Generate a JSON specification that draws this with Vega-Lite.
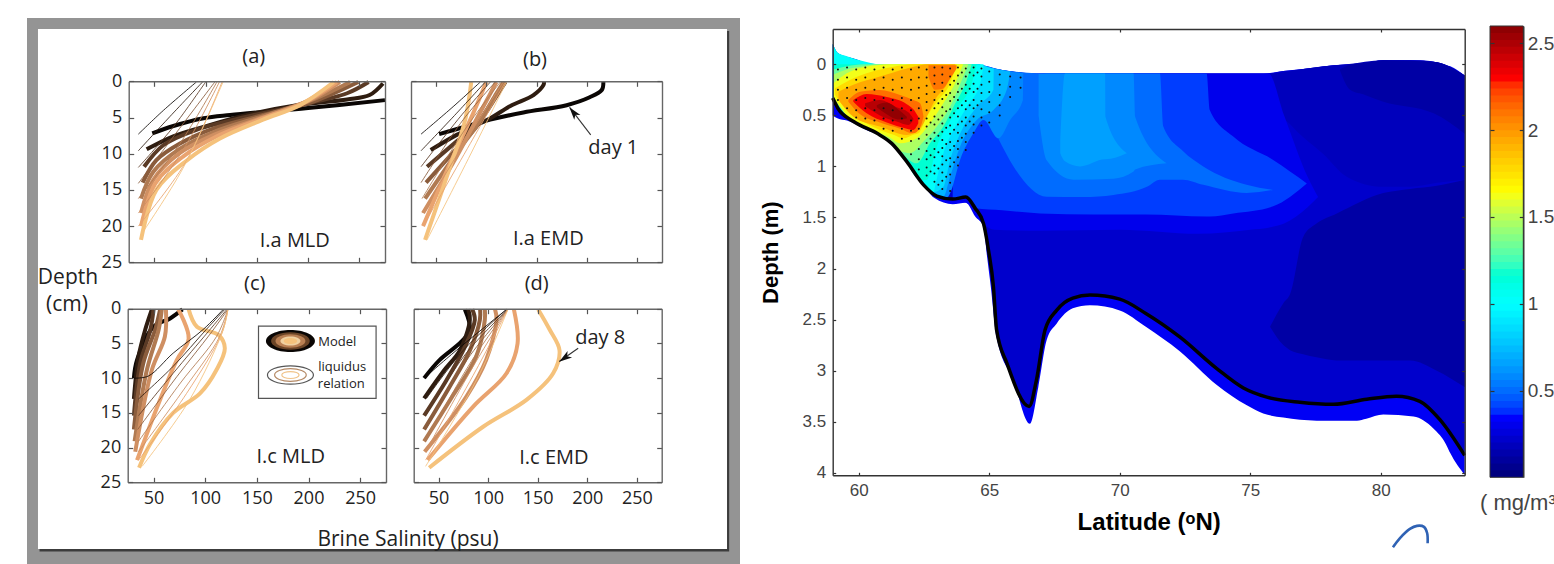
{"$schema":"https://vega.github.io/schema/vega-lite/v6.json","width":1554,"height":564,"padding":0,"autosize":{"type":"none"},"background":"white",
"config":{"view":{"stroke":null},"axis":{"grid":false,"title":null,"domainColor":"#666","tickColor":"#555","domainWidth":1.4,"tickWidth":1.2,"tickSize":-5,"labelFont":"Open Sans","labelFontSize":18,"labelColor":"#222"},"text":{"font":"Open Sans","color":"#222"}},
"datasets":{
"paper":[{"part":"gray","x":0,"x2":1,"y":0,"y2":1},{"part":"shadow","x":0.0176,"x2":0.9848,"y":0.0239,"y2":0.977},{"part":"sheet","x":0.0154,"x2":0.9818,"y":0.0201,"y2":0.9725}],
"papertext":[{"x":0.0575,"y":0.476,"label":"Depth"},{"x":0.056,"y":0.5256,"label":"(cm)"},{"x":0.5344,"y":0.956,"label":"Brine Salinity (psu)"}],
"model":[
{"panel":"a","day":1,"sal":48,"depth":7.2},{"panel":"a","day":1,"sal":68.6,"depth":6.17},{"panel":"a","day":1,"sal":98,"depth":5.1},{"panel":"a","day":1,"sal":124,"depth":4.65},{"panel":"a","day":1,"sal":200,"depth":3.7},{"panel":"a","day":1,"sal":275,"depth":2.6},
{"panel":"a","day":2,"sal":42.5,"depth":9.4},{"panel":"a","day":2,"sal":68.5,"depth":7.6},{"panel":"a","day":2,"sal":98,"depth":6.3},{"panel":"a","day":2,"sal":140,"depth":4.65},{"panel":"a","day":2,"sal":189,"depth":3.3},{"panel":"a","day":2,"sal":238,"depth":2.5},{"panel":"a","day":2,"sal":260,"depth":1.9},{"panel":"a","day":2,"sal":273,"depth":0.3},
{"panel":"a","day":3,"sal":40,"depth":11.8},{"panel":"a","day":3,"sal":59,"depth":8.8},{"panel":"a","day":3,"sal":91,"depth":6.7},{"panel":"a","day":3,"sal":140,"depth":4.9},{"panel":"a","day":3,"sal":189,"depth":3.4},{"panel":"a","day":3,"sal":238,"depth":1.65},{"panel":"a","day":3,"sal":259,"depth":0.1},
{"panel":"a","day":4,"sal":38.6,"depth":14},{"panel":"a","day":4,"sal":52,"depth":10.9},{"panel":"a","day":4,"sal":75,"depth":8.6},{"panel":"a","day":4,"sal":108,"depth":6.5},{"panel":"a","day":4,"sal":156,"depth":4.65},{"panel":"a","day":4,"sal":205,"depth":2.8},{"panel":"a","day":4,"sal":249,"depth":0.1},
{"panel":"a","day":5,"sal":37,"depth":16.2},{"panel":"a","day":5,"sal":49,"depth":12.5},{"panel":"a","day":5,"sal":75,"depth":9.3},{"panel":"a","day":5,"sal":108,"depth":7},{"panel":"a","day":5,"sal":156,"depth":4.8},{"panel":"a","day":5,"sal":205,"depth":2.5},{"panel":"a","day":5,"sal":241,"depth":0.1},
{"panel":"a","day":6,"sal":37,"depth":18.2},{"panel":"a","day":6,"sal":49,"depth":13.6},{"panel":"a","day":6,"sal":75,"depth":9.9},{"panel":"a","day":6,"sal":108,"depth":7.4},{"panel":"a","day":6,"sal":156,"depth":5},{"panel":"a","day":6,"sal":199,"depth":2.8},{"panel":"a","day":6,"sal":231,"depth":0.1},
{"panel":"a","day":7,"sal":37,"depth":20},{"panel":"a","day":7,"sal":51,"depth":14.1},{"panel":"a","day":7,"sal":78,"depth":10.4},{"panel":"a","day":7,"sal":111,"depth":7.6},{"panel":"a","day":7,"sal":156,"depth":5.1},{"panel":"a","day":7,"sal":195,"depth":3},{"panel":"a","day":7,"sal":228,"depth":0.1},
{"panel":"a","day":8,"sal":37,"depth":21.9},{"panel":"a","day":8,"sal":52,"depth":15},{"panel":"a","day":8,"sal":82,"depth":10.9},{"panel":"a","day":8,"sal":114,"depth":7.9},{"panel":"a","day":8,"sal":156,"depth":5.3},{"panel":"a","day":8,"sal":192,"depth":3.3},{"panel":"a","day":8,"sal":225,"depth":0.1},
{"panel":"b","day":1,"sal":53,"depth":7.3},{"panel":"b","day":1,"sal":77,"depth":6.35},{"panel":"b","day":1,"sal":104,"depth":5.3},{"panel":"b","day":1,"sal":137,"depth":4.3},{"panel":"b","day":1,"sal":180,"depth":3.3},{"panel":"b","day":1,"sal":203,"depth":2.2},{"panel":"b","day":1,"sal":215,"depth":1.2},{"panel":"b","day":1,"sal":216.6,"depth":0.1},
{"panel":"b","day":2,"sal":44.6,"depth":9.5},{"panel":"b","day":2,"sal":70.5,"depth":7.4},{"panel":"b","day":2,"sal":104,"depth":5.1},{"panel":"b","day":2,"sal":124,"depth":3.4},{"panel":"b","day":2,"sal":147,"depth":1.9},{"panel":"b","day":2,"sal":157,"depth":0.5},{"panel":"b","day":2,"sal":157.5,"depth":0.1},
{"panel":"b","day":3,"sal":41,"depth":11.8},{"panel":"b","day":3,"sal":70.5,"depth":8.3},{"panel":"b","day":3,"sal":90,"depth":6},{"panel":"b","day":3,"sal":107,"depth":2.6},{"panel":"b","day":3,"sal":119,"depth":0.1},
{"panel":"b","day":4,"sal":40,"depth":14},{"panel":"b","day":4,"sal":70.5,"depth":9.3},{"panel":"b","day":4,"sal":90,"depth":6.3},{"panel":"b","day":4,"sal":110,"depth":2.1},{"panel":"b","day":4,"sal":119,"depth":0.1},
{"panel":"b","day":5,"sal":39,"depth":16.2},{"panel":"b","day":5,"sal":70.5,"depth":9.9},{"panel":"b","day":5,"sal":92,"depth":5.8},{"panel":"b","day":5,"sal":110,"depth":1.7},{"panel":"b","day":5,"sal":117,"depth":0.1},
{"panel":"b","day":6,"sal":37,"depth":18.2},{"panel":"b","day":6,"sal":70.5,"depth":10.4},{"panel":"b","day":6,"sal":90,"depth":5.3},{"panel":"b","day":6,"sal":104,"depth":1.7},{"panel":"b","day":6,"sal":110,"depth":0.1},
{"panel":"b","day":7,"sal":37,"depth":20},{"panel":"b","day":7,"sal":67,"depth":10.4},{"panel":"b","day":7,"sal":87,"depth":4.4},{"panel":"b","day":7,"sal":100,"depth":0.1},
{"panel":"b","day":8,"sal":39,"depth":21.9},{"panel":"b","day":8,"sal":64,"depth":11.8},{"panel":"b","day":8,"sal":79,"depth":5.3},{"panel":"b","day":8,"sal":85,"depth":0.1},
{"panel":"c","day":1,"sal":31,"depth":10},{"panel":"c","day":1,"sal":34,"depth":7.4},{"panel":"c","day":1,"sal":50,"depth":2.6},{"panel":"c","day":1,"sal":66,"depth":1.4},{"panel":"c","day":1,"sal":78,"depth":0.1},
{"panel":"c","day":2,"sal":31,"depth":13},{"panel":"c","day":2,"sal":35.5,"depth":6.9},{"panel":"c","day":2,"sal":42,"depth":3},{"panel":"c","day":2,"sal":48.4,"depth":0.1},
{"panel":"c","day":3,"sal":31,"depth":15.4},{"panel":"c","day":3,"sal":37,"depth":7.9},{"panel":"c","day":3,"sal":47,"depth":3},{"panel":"c","day":3,"sal":50,"depth":0.1},
{"panel":"c","day":4,"sal":31,"depth":17.4},{"panel":"c","day":4,"sal":40,"depth":7.9},{"panel":"c","day":4,"sal":51.6,"depth":3},{"panel":"c","day":4,"sal":56.4,"depth":0.1},
{"panel":"c","day":5,"sal":31.7,"depth":19.1},{"panel":"c","day":5,"sal":43.6,"depth":8.8},{"panel":"c","day":5,"sal":55,"depth":3},{"panel":"c","day":5,"sal":58,"depth":0.1},
{"panel":"c","day":6,"sal":32.3,"depth":20.6},{"panel":"c","day":6,"sal":48.4,"depth":8.8},{"panel":"c","day":6,"sal":61,"depth":4},{"panel":"c","day":6,"sal":62,"depth":0.1},
{"panel":"c","day":7,"sal":34,"depth":21.8},{"panel":"c","day":7,"sal":55,"depth":13.6},{"panel":"c","day":7,"sal":72.5,"depth":7.4},{"panel":"c","day":7,"sal":84,"depth":4.3},{"panel":"c","day":7,"sal":74,"depth":0.1},
{"panel":"c","day":8,"sal":36,"depth":22.9},{"panel":"c","day":8,"sal":47,"depth":19.4},{"panel":"c","day":8,"sal":69,"depth":15},{"panel":"c","day":8,"sal":95,"depth":12.2},{"panel":"c","day":8,"sal":111,"depth":8.8},{"panel":"c","day":8,"sal":119,"depth":5.7},{"panel":"c","day":8,"sal":113,"depth":3.8},{"panel":"c","day":8,"sal":92,"depth":2.6},{"panel":"c","day":8,"sal":84,"depth":0.1},
{"panel":"d","day":1,"sal":35.5,"depth":10},{"panel":"d","day":1,"sal":51,"depth":7.4},{"panel":"d","day":1,"sal":73,"depth":4.75},{"panel":"d","day":1,"sal":81.6,"depth":3},{"panel":"d","day":1,"sal":76.6,"depth":0.1},
{"panel":"d","day":2,"sal":35.5,"depth":12.9},{"panel":"d","day":2,"sal":55,"depth":9},{"panel":"d","day":2,"sal":71.5,"depth":6},{"panel":"d","day":2,"sal":81.6,"depth":1.6},{"panel":"d","day":2,"sal":80,"depth":0.1},
{"panel":"d","day":3,"sal":35.5,"depth":15.4},{"panel":"d","day":3,"sal":58,"depth":10.3},{"panel":"d","day":3,"sal":76.6,"depth":5.5},{"panel":"d","day":3,"sal":86.6,"depth":1.6},{"panel":"d","day":3,"sal":84,"depth":0.1},
{"panel":"d","day":4,"sal":35.5,"depth":17.4},{"panel":"d","day":4,"sal":61.4,"depth":11.2},{"panel":"d","day":4,"sal":81.6,"depth":6},{"panel":"d","day":4,"sal":91.7,"depth":1.6},{"panel":"d","day":4,"sal":92,"depth":0.1},
{"panel":"d","day":5,"sal":35.5,"depth":19.1},{"panel":"d","day":5,"sal":65,"depth":12.4},{"panel":"d","day":5,"sal":88,"depth":6.9},{"panel":"d","day":5,"sal":96.7,"depth":1.6},{"panel":"d","day":5,"sal":96.7,"depth":0.1},
{"panel":"d","day":6,"sal":36,"depth":20.6},{"panel":"d","day":6,"sal":78,"depth":12.7},{"panel":"d","day":6,"sal":98,"depth":7.4},{"panel":"d","day":6,"sal":108.5,"depth":1.6},{"panel":"d","day":6,"sal":107,"depth":0.1},
{"panel":"d","day":7,"sal":39,"depth":21.8},{"panel":"d","day":7,"sal":85,"depth":14.1},{"panel":"d","day":7,"sal":118.6,"depth":9.3},{"panel":"d","day":7,"sal":129.7,"depth":5},{"panel":"d","day":7,"sal":126,"depth":0.1},
{"panel":"d","day":8,"sal":40.6,"depth":22.9},{"panel":"d","day":8,"sal":95,"depth":17},{"panel":"d","day":8,"sal":139,"depth":13.1},{"panel":"d","day":8,"sal":165.6,"depth":9.3},{"panel":"d","day":8,"sal":172,"depth":6},{"panel":"d","day":8,"sal":162,"depth":3},{"panel":"d","day":8,"sal":150.5,"depth":0.1}
],
"liquidus":[
{"panel":"a","day":1,"sal":34.4,"depth":7.3},{"panel":"a","day":1,"sal":59,"depth":4},{"panel":"a","day":1,"sal":91,"depth":0.1},
{"panel":"a","day":2,"sal":34.4,"depth":9.6},{"panel":"a","day":2,"sal":65,"depth":4.9},{"panel":"a","day":2,"sal":97,"depth":0.1},
{"panel":"a","day":3,"sal":34.4,"depth":11.9},{"panel":"a","day":3,"sal":68.5,"depth":6.3},{"panel":"a","day":3,"sal":100,"depth":0.1},
{"panel":"a","day":4,"sal":34.4,"depth":14.1},{"panel":"a","day":4,"sal":72,"depth":7},{"panel":"a","day":4,"sal":109,"depth":0.1},
{"panel":"a","day":5,"sal":34.4,"depth":16.2},{"panel":"a","day":5,"sal":75,"depth":8.6},{"panel":"a","day":5,"sal":111,"depth":0.1},
{"panel":"a","day":6,"sal":34.4,"depth":18.2},{"panel":"a","day":6,"sal":78,"depth":9.5},{"panel":"a","day":6,"sal":113.4,"depth":0.1},
{"panel":"a","day":7,"sal":34.4,"depth":20},{"panel":"a","day":7,"sal":80,"depth":11.3},{"panel":"a","day":7,"sal":116,"depth":0.1},
{"panel":"a","day":8,"sal":38,"depth":21},{"panel":"a","day":8,"sal":78,"depth":12},{"panel":"a","day":8,"sal":117,"depth":0.1},
{"panel":"b","day":1,"sal":35,"depth":7.3},{"panel":"b","day":1,"sal":67,"depth":3.5},{"panel":"b","day":1,"sal":94,"depth":0.1},
{"panel":"b","day":2,"sal":35,"depth":9.6},{"panel":"b","day":2,"sal":70.5,"depth":4.4},{"panel":"b","day":2,"sal":99,"depth":0.1},
{"panel":"b","day":3,"sal":35,"depth":11.8},{"panel":"b","day":3,"sal":74,"depth":4.9},{"panel":"b","day":3,"sal":104,"depth":0.1},
{"panel":"b","day":4,"sal":35,"depth":14},{"panel":"b","day":4,"sal":77,"depth":5.3},{"panel":"b","day":4,"sal":109,"depth":0.1},
{"panel":"b","day":5,"sal":36,"depth":16.2},{"panel":"b","day":5,"sal":80.5,"depth":6.3},{"panel":"b","day":5,"sal":114,"depth":0.1},
{"panel":"b","day":6,"sal":36,"depth":18.2},{"panel":"b","day":6,"sal":84,"depth":7.2},{"panel":"b","day":6,"sal":117,"depth":0.1},
{"panel":"b","day":7,"sal":37,"depth":20},{"panel":"b","day":7,"sal":84,"depth":8.6},{"panel":"b","day":7,"sal":119,"depth":0.1},
{"panel":"b","day":8,"sal":41,"depth":21.9},{"panel":"b","day":8,"sal":85,"depth":9.9},{"panel":"b","day":8,"sal":120,"depth":0.1},
{"panel":"c","day":1,"sal":31,"depth":10},{"panel":"c","day":1,"sal":45,"depth":9.7},{"panel":"c","day":1,"sal":69,"depth":6.4},{"panel":"c","day":1,"sal":98,"depth":3},{"panel":"c","day":1,"sal":117.5,"depth":0.1},
{"panel":"c","day":2,"sal":35.5,"depth":13},{"panel":"c","day":2,"sal":69,"depth":8.3},{"panel":"c","day":2,"sal":101,"depth":3},{"panel":"c","day":2,"sal":119,"depth":0.1},
{"panel":"c","day":3,"sal":35.5,"depth":15.4},{"panel":"c","day":3,"sal":69,"depth":9.3},{"panel":"c","day":3,"sal":103,"depth":3.3},{"panel":"c","day":3,"sal":121,"depth":0.1},
{"panel":"c","day":4,"sal":34.6,"depth":17.4},{"panel":"c","day":4,"sal":72.5,"depth":9.8},{"panel":"c","day":4,"sal":105,"depth":3.6},{"panel":"c","day":4,"sal":122,"depth":0.1},
{"panel":"c","day":5,"sal":35.5,"depth":19.1},{"panel":"c","day":5,"sal":76,"depth":10.7},{"panel":"c","day":5,"sal":111,"depth":4},{"panel":"c","day":5,"sal":122,"depth":0.1},
{"panel":"c","day":6,"sal":35.5,"depth":20.6},{"panel":"c","day":6,"sal":79,"depth":11.7},{"panel":"c","day":6,"sal":114,"depth":4},{"panel":"c","day":6,"sal":122,"depth":0.1},
{"panel":"c","day":7,"sal":35.5,"depth":21.8},{"panel":"c","day":7,"sal":82,"depth":12.2},{"panel":"c","day":7,"sal":116,"depth":3.6},{"panel":"c","day":7,"sal":122,"depth":0.1},
{"panel":"c","day":8,"sal":39,"depth":22.7},{"panel":"c","day":8,"sal":85,"depth":13.1},{"panel":"c","day":8,"sal":117.5,"depth":3},{"panel":"c","day":8,"sal":122,"depth":0.1},
{"panel":"d","day":1,"sal":35.5,"depth":10},{"panel":"d","day":1,"sal":68,"depth":6},{"panel":"d","day":1,"sal":118.6,"depth":0.1},
{"panel":"d","day":2,"sal":38,"depth":12.9},{"panel":"d","day":2,"sal":75,"depth":6},{"panel":"d","day":2,"sal":118.6,"depth":0.1},
{"panel":"d","day":3,"sal":37,"depth":15.4},{"panel":"d","day":3,"sal":78,"depth":6.4},{"panel":"d","day":3,"sal":120,"depth":0.1},
{"panel":"d","day":4,"sal":37,"depth":17.4},{"panel":"d","day":4,"sal":80,"depth":7.1},{"panel":"d","day":4,"sal":120,"depth":0.1},
{"panel":"d","day":5,"sal":37,"depth":19.1},{"panel":"d","day":5,"sal":83,"depth":7.6},{"panel":"d","day":5,"sal":120,"depth":0.1},
{"panel":"d","day":6,"sal":37,"depth":20.6},{"panel":"d","day":6,"sal":85,"depth":8.3},{"panel":"d","day":6,"sal":120,"depth":0.1},
{"panel":"d","day":7,"sal":37,"depth":21.8},{"panel":"d","day":7,"sal":88,"depth":8.8},{"panel":"d","day":7,"sal":120,"depth":0.1},
{"panel":"d","day":8,"sal":37,"depth":22.7},{"panel":"d","day":8,"sal":90,"depth":9.8},{"panel":"d","day":8,"sal":120,"depth":0.1}
],
"notes":[
{"panel":"a","sal":147,"depth":-3.4,"label":"(a)"},{"panel":"a","sal":187,"depth":22,"label":"I.a MLD"},
{"panel":"b","sal":148.5,"depth":-2.94,"label":"(b)"},{"panel":"b","sal":161.8,"depth":21.8,"label":"I.a EMD"},{"panel":"b","sal":226.5,"depth":9.16,"label":"day 1"},
{"panel":"c","sal":148,"depth":-3.56,"label":"(c)"},{"panel":"c","sal":182.8,"depth":21.4,"label":"I.c MLD"},
{"panel":"d","sal":149,"depth":-3.56,"label":"(d)"},{"panel":"d","sal":166.3,"depth":21.45,"label":"I.c EMD"},{"panel":"d","sal":213,"depth":4.17,"label":"day 8"}],
"legendnotes":[{"sal":227.8,"depth":4.75,"label":"Model"},{"sal":232.6,"depth":8.4,"label":"liquidus"},{"sal":231.7,"depth":10.85,"label":"relation"}],
"arrows":[{"panel":"b","sal":204,"depth":7.4},{"panel":"b","sal":183,"depth":3.6},{"panel":"d","sal":190.8,"depth":5.7},{"panel":"d","sal":171.7,"depth":7.6}],
"heat":[
{"band":1,"chl":0.3,"lat":59,"top":-0.2,"bot":0.5},{"band":1,"chl":0.3,"lat":59.2,"top":-0.108,"bot":0.53},{"band":1,"chl":0.3,"lat":59.54,"top":-0.075,"bot":0.55},{"band":1,"chl":0.3,"lat":59.9,"top":-0.05,"bot":0.59},{"band":1,"chl":0.3,"lat":60.18,"top":-0.02,"bot":0.63},{"band":1,"chl":0.3,"lat":60.4,"top":0,"bot":0.655},{"band":1,"chl":0.3,"lat":60.81,"top":0,"bot":0.69},{"band":1,"chl":0.3,"lat":61.3,"top":0,"bot":0.79},{"band":1,"chl":0.3,"lat":61.84,"top":0,"bot":0.953},{"band":1,"chl":0.3,"lat":62.35,"top":0,"bot":1.13},{"band":1,"chl":0.3,"lat":62.9,"top":0,"bot":1.31},{"band":1,"chl":0.3,"lat":63.6,"top":0,"bot":1.37},{"band":1,"chl":0.3,"lat":64.1,"top":0,"bot":1.355},{"band":1,"chl":0.3,"lat":64.46,"top":0,"bot":1.49},{"band":1,"chl":0.3,"lat":64.78,"top":0.015,"bot":1.59},{"band":1,"chl":0.3,"lat":64.9,"top":0.025,"bot":1.85},{"band":1,"chl":0.3,"lat":65.06,"top":0.035,"bot":2.18},{"band":1,"chl":0.3,"lat":65.28,"top":0.05,"bot":2.67},{"band":1,"chl":0.3,"lat":65.92,"top":0.075,"bot":3.09},{"band":1,"chl":0.3,"lat":66.56,"top":0.09,"bot":3.52},{"band":1,"chl":0.3,"lat":66.88,"top":0.095,"bot":3.16},{"band":1,"chl":0.3,"lat":67.2,"top":0.09,"bot":2.7},{"band":1,"chl":0.3,"lat":67.58,"top":0.09,"bot":2.54},{"band":1,"chl":0.3,"lat":68.2,"top":0.09,"bot":2.39},{"band":1,"chl":0.3,"lat":68.86,"top":0.09,"bot":2.36},{"band":1,"chl":0.3,"lat":70,"top":0.09,"bot":2.41},{"band":1,"chl":0.3,"lat":71,"top":0.09,"bot":2.57},{"band":1,"chl":0.3,"lat":72.3,"top":0.09,"bot":2.81},{"band":1,"chl":0.3,"lat":73.72,"top":0.09,"bot":3.14},{"band":1,"chl":0.3,"lat":74.87,"top":0.09,"bot":3.34},{"band":1,"chl":0.3,"lat":75.5,"top":0.09,"bot":3.42},{"band":1,"chl":0.3,"lat":76.27,"top":0.065,"bot":3.46},{"band":1,"chl":0.3,"lat":77.55,"top":0.03,"bot":3.49},{"band":1,"chl":0.3,"lat":78.04,"top":0.013,"bot":3.49},{"band":1,"chl":0.3,"lat":79.09,"top":-0.005,"bot":3.49},{"band":1,"chl":0.3,"lat":79.45,"top":-0.016,"bot":3.47},{"band":1,"chl":0.3,"lat":80.1,"top":-0.04,"bot":3.43},{"band":1,"chl":0.3,"lat":81.26,"top":-0.04,"bot":3.45},{"band":1,"chl":0.3,"lat":82.03,"top":-0.025,"bot":3.57},{"band":1,"chl":0.3,"lat":82.5,"top":0.006,"bot":3.72},{"band":1,"chl":0.3,"lat":82.67,"top":0.02,"bot":3.81},{"band":1,"chl":0.3,"lat":83.22,"top":0.11,"bot":4.02},
{"band":2,"chl":0.2,"lat":59,"top":-0.2,"bot":0.33},{"band":2,"chl":0.2,"lat":59.2,"top":-0.108,"bot":0.43},{"band":2,"chl":0.2,"lat":59.8,"top":-0.055,"bot":0.56},{"band":2,"chl":0.2,"lat":60.7,"top":0,"bot":0.676},{"band":2,"chl":0.2,"lat":61.26,"top":0,"bot":0.774},{"band":2,"chl":0.2,"lat":61.84,"top":0,"bot":0.953},{"band":2,"chl":0.2,"lat":62.48,"top":0,"bot":1.18},{"band":2,"chl":0.2,"lat":62.99,"top":0,"bot":1.29},{"band":2,"chl":0.2,"lat":63.6,"top":0,"bot":1.32},{"band":2,"chl":0.2,"lat":64.1,"top":0,"bot":1.3},{"band":2,"chl":0.2,"lat":64.46,"top":0,"bot":1.41},{"band":2,"chl":0.2,"lat":64.78,"top":0.015,"bot":1.56},{"band":2,"chl":0.2,"lat":64.97,"top":0.03,"bot":1.82},{"band":2,"chl":0.2,"lat":65.16,"top":0.04,"bot":2.18},{"band":2,"chl":0.2,"lat":65.28,"top":0.05,"bot":2.6},{"band":2,"chl":0.2,"lat":65.68,"top":0.065,"bot":2.93},{"band":2,"chl":0.2,"lat":66.53,"top":0.09,"bot":3.35},{"band":2,"chl":0.2,"lat":66.81,"top":0.095,"bot":3.09},{"band":2,"chl":0.2,"lat":67.14,"top":0.09,"bot":2.6},{"band":2,"chl":0.2,"lat":67.58,"top":0.09,"bot":2.41},{"band":2,"chl":0.2,"lat":68.2,"top":0.09,"bot":2.29},{"band":2,"chl":0.2,"lat":68.86,"top":0.09,"bot":2.26},{"band":2,"chl":0.2,"lat":70,"top":0.09,"bot":2.3},{"band":2,"chl":0.2,"lat":71,"top":0.09,"bot":2.44},{"band":2,"chl":0.2,"lat":72.3,"top":0.09,"bot":2.67},{"band":2,"chl":0.2,"lat":73.72,"top":0.09,"bot":2.98},{"band":2,"chl":0.2,"lat":74.74,"top":0.09,"bot":3.17},{"band":2,"chl":0.2,"lat":75.64,"top":0.09,"bot":3.26},{"band":2,"chl":0.2,"lat":76.27,"top":0.065,"bot":3.29},{"band":2,"chl":0.2,"lat":76.9,"top":0.05,"bot":3.31},{"band":2,"chl":0.2,"lat":78.19,"top":0.01,"bot":3.33},{"band":2,"chl":0.2,"lat":79.47,"top":-0.016,"bot":3.28},{"band":2,"chl":0.2,"lat":80.1,"top":-0.04,"bot":3.26},{"band":2,"chl":0.2,"lat":80.6,"top":-0.04,"bot":3.25},{"band":2,"chl":0.2,"lat":81.5,"top":-0.04,"bot":3.3},{"band":2,"chl":0.2,"lat":82.27,"top":-0.01,"bot":3.48},{"band":2,"chl":0.2,"lat":83.22,"top":0.11,"bot":3.83},
{"band":3,"chl":0.16,"lat":75.76,"top":0.09,"bot":0.25},{"band":3,"chl":0.16,"lat":75.83,"top":0.09,"bot":0.35},{"band":3,"chl":0.16,"lat":76.66,"top":0.06,"bot":0.62},{"band":3,"chl":0.16,"lat":77.81,"top":0.02,"bot":0.88},{"band":3,"chl":0.16,"lat":78.7,"top":0,"bot":1.1},{"band":3,"chl":0.16,"lat":80.1,"top":-0.04,"bot":1.2},{"band":3,"chl":0.16,"lat":81.13,"top":-0.04,"bot":1.2},{"band":3,"chl":0.16,"lat":82.15,"top":-0.02,"bot":1.16},{"band":3,"chl":0.16,"lat":83.22,"top":0.11,"bot":1.13},
{"band":4,"chl":0.1,"lat":75.76,"top":2.57,"bot":2.57},{"band":4,"chl":0.1,"lat":76.27,"top":2.34,"bot":2.75},{"band":4,"chl":0.1,"lat":76.53,"top":2.25,"bot":2.8},{"band":4,"chl":0.1,"lat":77.03,"top":1.69,"bot":2.84},{"band":4,"chl":0.1,"lat":77.54,"top":1.56,"bot":2.87},{"band":4,"chl":0.1,"lat":78.32,"top":1.46,"bot":2.9},{"band":4,"chl":0.1,"lat":80.1,"top":1.26,"bot":2.9},{"band":4,"chl":0.1,"lat":81.13,"top":1.22,"bot":2.9},{"band":4,"chl":0.1,"lat":82.15,"top":1.19,"bot":3},{"band":4,"chl":0.1,"lat":83.22,"top":1.13,"bot":3.16},
{"band":5,"chl":0.1,"lat":78.44,"top":0.05,"bot":0.06},{"band":5,"chl":0.1,"lat":78.83,"top":0.003,"bot":0.25},{"band":5,"chl":0.1,"lat":79.4,"top":-0.016,"bot":0.3},{"band":5,"chl":0.1,"lat":80.1,"top":-0.04,"bot":0.366},{"band":5,"chl":0.1,"lat":82.03,"top":-0.025,"bot":0.48},{"band":5,"chl":0.1,"lat":83.22,"top":0.11,"bot":0.68},
{"band":25,"chl":0.28,"lat":63.6,"top":0,"bot":1.32},{"band":25,"chl":0.28,"lat":64.46,"top":0,"bot":1.41},{"band":25,"chl":0.28,"lat":64.78,"top":0.015,"bot":1.56},{"band":25,"chl":0.28,"lat":65.2,"top":0.04,"bot":1.62},{"band":25,"chl":0.28,"lat":67,"top":0.09,"bot":1.63},{"band":25,"chl":0.28,"lat":70,"top":0.09,"bot":1.62},{"band":25,"chl":0.28,"lat":73,"top":0.09,"bot":1.66},{"band":25,"chl":0.28,"lat":75,"top":0.09,"bot":1.62},{"band":25,"chl":0.28,"lat":75.7,"top":0.09,"bot":1.6},{"band":25,"chl":0.28,"lat":76.3,"top":0.5,"bot":1.56},{"band":25,"chl":0.28,"lat":77.2,"top":1.1,"bot":1.4},{"band":25,"chl":0.28,"lat":77.6,"top":1.3,"bot":1.3},
{"band":6,"chl":0.38,"lat":63.6,"top":0,"bot":1.32},{"band":6,"chl":0.38,"lat":64.1,"top":0,"bot":1.3},{"band":6,"chl":0.38,"lat":64.46,"top":0,"bot":1.41},{"band":6,"chl":0.38,"lat":65.5,"top":0.055,"bot":1.43},{"band":6,"chl":0.38,"lat":66.95,"top":0.09,"bot":1.46},{"band":6,"chl":0.38,"lat":69,"top":0.09,"bot":1.47},{"band":6,"chl":0.38,"lat":71,"top":0.09,"bot":1.47},{"band":6,"chl":0.38,"lat":73.33,"top":0.09,"bot":1.49},{"band":6,"chl":0.38,"lat":73.45,"top":0.447,"bot":1.49},{"band":6,"chl":0.38,"lat":74.35,"top":0.708,"bot":1.46},{"band":6,"chl":0.38,"lat":75.88,"top":0.937,"bot":1.39},{"band":6,"chl":0.38,"lat":77.17,"top":1.166,"bot":1.166},
{"band":7,"chl":0.48,"lat":65.35,"top":0.05,"bot":0.73},{"band":7,"chl":0.48,"lat":65.93,"top":0.07,"bot":1},{"band":7,"chl":0.48,"lat":67.2,"top":0.09,"bot":1.296},{"band":7,"chl":0.48,"lat":68.6,"top":0.09,"bot":1.3},{"band":7,"chl":0.48,"lat":69.76,"top":0.09,"bot":1.28},{"band":7,"chl":0.48,"lat":71.04,"top":0.09,"bot":1.2},{"band":7,"chl":0.48,"lat":71.54,"top":0.09,"bot":1.13},{"band":7,"chl":0.48,"lat":71.67,"top":0.61,"bot":1.13},{"band":7,"chl":0.48,"lat":72.42,"top":0.85,"bot":1.13},{"band":7,"chl":0.48,"lat":73.2,"top":1,"bot":1.18},{"band":7,"chl":0.48,"lat":74.86,"top":1.18,"bot":1.26},{"band":7,"chl":0.48,"lat":75.88,"top":1.23,"bot":1.23},
{"band":8,"chl":0.56,"lat":66.89,"top":0.095,"bot":0.5},{"band":8,"chl":0.56,"lat":67.2,"top":0.09,"bot":0.94},{"band":8,"chl":0.56,"lat":68.23,"top":0.09,"bot":1.13},{"band":8,"chl":0.56,"lat":69.76,"top":0.09,"bot":1.12},{"band":8,"chl":0.56,"lat":70.53,"top":0.09,"bot":1.05},{"band":8,"chl":0.56,"lat":70.59,"top":0.513,"bot":1.03},{"band":8,"chl":0.56,"lat":71.8,"top":0.97,"bot":0.97},
{"band":9,"chl":0.63,"lat":67.72,"top":0.75,"bot":0.87},{"band":9,"chl":0.63,"lat":67.9,"top":0.09,"bot":0.95},{"band":9,"chl":0.63,"lat":68.48,"top":0.09,"bot":1},{"band":9,"chl":0.63,"lat":69.44,"top":0.09,"bot":0.93},{"band":9,"chl":0.63,"lat":69.45,"top":0.51,"bot":0.93},{"band":9,"chl":0.63,"lat":70.27,"top":0.87,"bot":0.87},
{"band":10,"chl":0.55,"lat":62.35,"top":0,"bot":1.13},{"band":10,"chl":0.55,"lat":62.86,"top":0,"bot":1.27},{"band":10,"chl":0.55,"lat":63.37,"top":0,"bot":1.31},{"band":10,"chl":0.55,"lat":63.5,"top":0,"bot":1.263},{"band":10,"chl":0.55,"lat":63.88,"top":0,"bot":0.937},{"band":10,"chl":0.55,"lat":64.39,"top":0,"bot":0.676},{"band":10,"chl":0.55,"lat":64.78,"top":0.015,"bot":0.545},{"band":10,"chl":0.55,"lat":65.35,"top":0.05,"bot":0.725},{"band":10,"chl":0.55,"lat":65.8,"top":0.07,"bot":0.545},{"band":10,"chl":0.55,"lat":66.29,"top":0.085,"bot":0.349},{"band":10,"chl":0.55,"lat":66.3,"top":0.085,"bot":0.09},
{"band":11,"chl":0.7,"lat":62.35,"top":0,"bot":1.13},{"band":11,"chl":0.7,"lat":62.86,"top":0,"bot":1.27},{"band":11,"chl":0.7,"lat":63.24,"top":0,"bot":1.296},{"band":11,"chl":0.7,"lat":63.5,"top":0,"bot":1.1},{"band":11,"chl":0.7,"lat":63.88,"top":0,"bot":0.806},{"band":11,"chl":0.7,"lat":64.52,"top":0,"bot":0.545},{"band":11,"chl":0.7,"lat":65.16,"top":0.04,"bot":0.447},{"band":11,"chl":0.7,"lat":65.67,"top":0.065,"bot":0.25},{"band":11,"chl":0.7,"lat":65.8,"top":0.07,"bot":0.08},
{"band":12,"chl":0.85,"lat":62.35,"top":0,"bot":1.13},{"band":12,"chl":0.85,"lat":62.86,"top":0,"bot":1.25},{"band":12,"chl":0.85,"lat":63.24,"top":0,"bot":1.198},{"band":12,"chl":0.85,"lat":63.5,"top":0,"bot":0.937},{"band":12,"chl":0.85,"lat":63.95,"top":0,"bot":0.643},{"band":12,"chl":0.85,"lat":64.52,"top":0,"bot":0.415},{"band":12,"chl":0.85,"lat":65.16,"top":0.04,"bot":0.25},{"band":12,"chl":0.85,"lat":65.17,"top":0.04,"bot":0.05},
{"band":13,"chl":1,"lat":59,"top":-0.2,"bot":0.33},{"band":13,"chl":1,"lat":59.22,"top":-0.108,"bot":0.43},{"band":13,"chl":1,"lat":59.54,"top":-0.08,"bot":0.5},{"band":13,"chl":1,"lat":60.18,"top":-0.03,"bot":0.62},{"band":13,"chl":1,"lat":60.81,"top":0,"bot":0.69},{"band":13,"chl":1,"lat":61.58,"top":0,"bot":0.86},{"band":13,"chl":1,"lat":62.35,"top":0,"bot":1.13},{"band":13,"chl":1,"lat":62.86,"top":0,"bot":1.27},{"band":13,"chl":1,"lat":62.92,"top":0,"bot":1.2},{"band":13,"chl":1,"lat":63.24,"top":0,"bot":0.87},{"band":13,"chl":1,"lat":63.63,"top":0,"bot":0.643},{"band":13,"chl":1,"lat":64.14,"top":0,"bot":0.415},{"band":13,"chl":1,"lat":64.65,"top":0,"bot":0.186},{"band":13,"chl":1,"lat":64.78,"top":0,"bot":0.016},
{"band":14,"chl":1.15,"lat":59.03,"top":0,"bot":0.34},{"band":14,"chl":1.15,"lat":59.54,"top":0,"bot":0.5},{"band":14,"chl":1.15,"lat":60.18,"top":0,"bot":0.62},{"band":14,"chl":1.15,"lat":60.81,"top":0,"bot":0.69},{"band":14,"chl":1.15,"lat":61.58,"top":0,"bot":0.86},{"band":14,"chl":1.15,"lat":62.35,"top":0,"bot":1.13},{"band":14,"chl":1.15,"lat":62.6,"top":0,"bot":1.133},{"band":14,"chl":1.15,"lat":62.99,"top":0,"bot":0.806},{"band":14,"chl":1.15,"lat":63.37,"top":0,"bot":0.61},{"band":14,"chl":1.15,"lat":63.82,"top":0,"bot":0.415},{"band":14,"chl":1.15,"lat":64.33,"top":0,"bot":0.186},{"band":14,"chl":1.15,"lat":64.52,"top":0,"bot":0},
{"band":15,"chl":1.3,"lat":59.03,"top":0.05,"bot":0.34},{"band":15,"chl":1.3,"lat":59.54,"top":0.02,"bot":0.5},{"band":15,"chl":1.3,"lat":60.18,"top":0,"bot":0.62},{"band":15,"chl":1.3,"lat":60.81,"top":0,"bot":0.69},{"band":15,"chl":1.3,"lat":61.58,"top":0,"bot":0.86},{"band":15,"chl":1.3,"lat":62.22,"top":0,"bot":0.97},{"band":15,"chl":1.3,"lat":62.73,"top":0,"bot":0.774},{"band":15,"chl":1.3,"lat":63.24,"top":0,"bot":0.61},{"band":15,"chl":1.3,"lat":63.63,"top":0,"bot":0.415},{"band":15,"chl":1.3,"lat":64.14,"top":0,"bot":0.153},{"band":15,"chl":1.3,"lat":64.33,"top":0,"bot":0},
{"band":16,"chl":1.45,"lat":59.03,"top":0.1,"bot":0.33},{"band":16,"chl":1.45,"lat":59.54,"top":0.05,"bot":0.49},{"band":16,"chl":1.45,"lat":60.18,"top":0.02,"bot":0.61},{"band":16,"chl":1.45,"lat":60.81,"top":0,"bot":0.68},{"band":16,"chl":1.45,"lat":61.58,"top":0,"bot":0.85},{"band":16,"chl":1.45,"lat":61.97,"top":0,"bot":0.87},{"band":16,"chl":1.45,"lat":62.48,"top":0,"bot":0.757},{"band":16,"chl":1.45,"lat":62.99,"top":0,"bot":0.61},{"band":16,"chl":1.45,"lat":63.5,"top":0,"bot":0.415},{"band":16,"chl":1.45,"lat":63.95,"top":0,"bot":0.153},{"band":16,"chl":1.45,"lat":64.2,"top":0,"bot":0},
{"band":17,"chl":1.6,"lat":59.03,"top":0.186,"bot":0.317},{"band":17,"chl":1.6,"lat":59.54,"top":0.088,"bot":0.5},{"band":17,"chl":1.6,"lat":60.3,"top":0.023,"bot":0.63},{"band":17,"chl":1.6,"lat":60.69,"top":0.01,"bot":0.66},{"band":17,"chl":1.6,"lat":61.2,"top":0,"bot":0.72},{"band":17,"chl":1.6,"lat":61.58,"top":0,"bot":0.774},{"band":17,"chl":1.6,"lat":62.22,"top":0,"bot":0.725},{"band":17,"chl":1.6,"lat":62.73,"top":0,"bot":0.578},{"band":17,"chl":1.6,"lat":63.24,"top":0,"bot":0.382},{"band":17,"chl":1.6,"lat":63.75,"top":0,"bot":0.153},{"band":17,"chl":1.6,"lat":64,"top":0,"bot":0},
{"band":18,"chl":1.75,"lat":59.09,"top":0.235,"bot":0.3},{"band":18,"chl":1.75,"lat":59.66,"top":0.153,"bot":0.48},{"band":18,"chl":1.75,"lat":60.3,"top":0.088,"bot":0.58},{"band":18,"chl":1.75,"lat":60.81,"top":0.05,"bot":0.643},{"band":18,"chl":1.75,"lat":61.33,"top":0.023,"bot":0.69},{"band":18,"chl":1.75,"lat":61.71,"top":0.01,"bot":0.725},{"band":18,"chl":1.75,"lat":62.09,"top":0,"bot":0.69},{"band":18,"chl":1.75,"lat":62.28,"top":0,"bot":0.676},{"band":18,"chl":1.75,"lat":62.6,"top":0,"bot":0.513},{"band":18,"chl":1.75,"lat":62.99,"top":0,"bot":0.366},{"band":18,"chl":1.75,"lat":63.5,"top":0,"bot":0.186},{"band":18,"chl":1.75,"lat":63.75,"top":0,"bot":0},
{"band":19,"chl":1.92,"lat":59.22,"top":0.268,"bot":0.35},{"band":19,"chl":1.92,"lat":59.79,"top":0.2,"bot":0.513},{"band":19,"chl":1.92,"lat":60.81,"top":0.12,"bot":0.61},{"band":19,"chl":1.92,"lat":61.84,"top":0.04,"bot":0.692},{"band":19,"chl":1.92,"lat":62.35,"top":0.01,"bot":0.627},{"band":19,"chl":1.92,"lat":62.67,"top":0,"bot":0.48},{"band":19,"chl":1.92,"lat":62.92,"top":0,"bot":0.349},{"band":19,"chl":1.92,"lat":63.37,"top":0,"bot":0.2},{"band":19,"chl":1.92,"lat":63.69,"top":0,"bot":0.04},
{"band":20,"chl":2.08,"lat":62.67,"top":0.01,"bot":0.12},{"band":20,"chl":2.08,"lat":62.92,"top":0.01,"bot":0.25},{"band":20,"chl":2.08,"lat":63.2,"top":0.01,"bot":0.24},{"band":20,"chl":2.08,"lat":63.5,"top":0.01,"bot":0.14},{"band":20,"chl":2.08,"lat":63.75,"top":0.01,"bot":0.04},
{"band":21,"chl":2.1,"lat":59.6,"top":0.349,"bot":0.366},{"band":21,"chl":2.1,"lat":60.05,"top":0.268,"bot":0.49},{"band":21,"chl":2.1,"lat":60.81,"top":0.251,"bot":0.57},{"band":21,"chl":2.1,"lat":61.58,"top":0.3,"bot":0.63},{"band":21,"chl":2.1,"lat":62.09,"top":0.35,"bot":0.676},{"band":21,"chl":2.1,"lat":62.35,"top":0.382,"bot":0.62},{"band":21,"chl":2.1,"lat":62.48,"top":0.513,"bot":0.513},
{"band":22,"chl":2.3,"lat":59.79,"top":0.349,"bot":0.366},{"band":22,"chl":2.3,"lat":60.3,"top":0.29,"bot":0.48},{"band":22,"chl":2.3,"lat":61.07,"top":0.32,"bot":0.57},{"band":22,"chl":2.3,"lat":61.84,"top":0.39,"bot":0.63},{"band":22,"chl":2.3,"lat":62.09,"top":0.44,"bot":0.643},{"band":22,"chl":2.3,"lat":62.28,"top":0.513,"bot":0.578},
{"band":23,"chl":2.45,"lat":60.24,"top":0.382,"bot":0.408},{"band":23,"chl":2.45,"lat":60.81,"top":0.349,"bot":0.5},{"band":23,"chl":2.45,"lat":61.45,"top":0.42,"bot":0.56},{"band":23,"chl":2.45,"lat":61.9,"top":0.47,"bot":0.594},{"band":23,"chl":2.45,"lat":62.09,"top":0.53,"bot":0.545},
{"band":24,"chl":2.55,"lat":60.69,"top":0.4,"bot":0.42},{"band":24,"chl":2.55,"lat":61.07,"top":0.375,"bot":0.49},{"band":24,"chl":2.55,"lat":61.5,"top":0.44,"bot":0.54},{"band":24,"chl":2.55,"lat":61.84,"top":0.513,"bot":0.53}
],
"contour":[{"lat":59,"depth":0.33},{"lat":59.2,"depth":0.43},{"lat":59.8,"depth":0.56},{"lat":60.7,"depth":0.676},{"lat":61.26,"depth":0.774},{"lat":61.84,"depth":0.953},{"lat":62.48,"depth":1.18},{"lat":62.99,"depth":1.29},{"lat":63.6,"depth":1.32},{"lat":64.1,"depth":1.3},{"lat":64.46,"depth":1.41},{"lat":64.78,"depth":1.56},{"lat":64.97,"depth":1.82},{"lat":65.16,"depth":2.18},{"lat":65.28,"depth":2.6},{"lat":65.68,"depth":2.93},{"lat":66.53,"depth":3.35},{"lat":66.81,"depth":3.09},{"lat":67.14,"depth":2.6},{"lat":67.58,"depth":2.41},{"lat":68.2,"depth":2.29},{"lat":68.86,"depth":2.26},{"lat":70,"depth":2.3},{"lat":71,"depth":2.44},{"lat":72.3,"depth":2.67},{"lat":73.72,"depth":2.98},{"lat":74.74,"depth":3.17},{"lat":75.64,"depth":3.26},{"lat":76.9,"depth":3.31},{"lat":78.19,"depth":3.33},{"lat":79.47,"depth":3.28},{"lat":80.6,"depth":3.25},{"lat":81.5,"depth":3.3},{"lat":82.27,"depth":3.48},{"lat":83.22,"depth":3.83}],
"arc":[{"lat":80.47,"depth":4.73},{"lat":80.74,"depth":4.64},{"lat":81.12,"depth":4.55},{"lat":81.39,"depth":4.52},{"lat":81.66,"depth":4.53},{"lat":81.78,"depth":4.59},{"lat":81.8,"depth":4.69}],
"dots":[
{"lat":59.2,"depth":0.05},{"lat":59.2,"depth":0.15},{"lat":59.2,"depth":0.25},{"lat":59.2,"depth":0.35},
{"lat":59.55,"depth":0.03},{"lat":59.55,"depth":0.13},{"lat":59.55,"depth":0.23},{"lat":59.55,"depth":0.33},{"lat":59.55,"depth":0.43},
{"lat":59.9,"depth":0.05},{"lat":59.9,"depth":0.15},{"lat":59.9,"depth":0.25},{"lat":59.9,"depth":0.35},{"lat":59.9,"depth":0.45},{"lat":59.9,"depth":0.52},
{"lat":60.25,"depth":0.03},{"lat":60.25,"depth":0.13},{"lat":60.25,"depth":0.23},{"lat":60.25,"depth":0.33},{"lat":60.25,"depth":0.43},{"lat":60.25,"depth":0.53},
{"lat":60.6,"depth":0.05},{"lat":60.6,"depth":0.15},{"lat":60.6,"depth":0.25},{"lat":60.6,"depth":0.35},{"lat":60.6,"depth":0.45},{"lat":60.6,"depth":0.55},
{"lat":60.95,"depth":0.03},{"lat":60.95,"depth":0.13},{"lat":60.95,"depth":0.23},{"lat":60.95,"depth":0.33},{"lat":60.95,"depth":0.43},{"lat":60.95,"depth":0.53},{"lat":60.95,"depth":0.63},
{"lat":61.3,"depth":0.05},{"lat":61.3,"depth":0.15},{"lat":61.3,"depth":0.25},{"lat":61.3,"depth":0.35},{"lat":61.3,"depth":0.45},{"lat":61.3,"depth":0.55},{"lat":61.3,"depth":0.65},
{"lat":61.65,"depth":0.03},{"lat":61.65,"depth":0.13},{"lat":61.65,"depth":0.23},{"lat":61.65,"depth":0.33},{"lat":61.65,"depth":0.43},{"lat":61.65,"depth":0.53},{"lat":61.65,"depth":0.63},{"lat":61.65,"depth":0.73},
{"lat":62,"depth":0.05},{"lat":62,"depth":0.15},{"lat":62,"depth":0.25},{"lat":62,"depth":0.35},{"lat":62,"depth":0.45},{"lat":62,"depth":0.55},{"lat":62,"depth":0.65},{"lat":62,"depth":0.75},{"lat":62,"depth":0.88},
{"lat":62.3,"depth":0.03},{"lat":62.3,"depth":0.13},{"lat":62.3,"depth":0.23},{"lat":62.3,"depth":0.33},{"lat":62.3,"depth":0.43},{"lat":62.3,"depth":0.53},{"lat":62.3,"depth":0.63},{"lat":62.3,"depth":0.73},{"lat":62.3,"depth":0.83},{"lat":62.3,"depth":0.93},{"lat":62.3,"depth":1.03},
{"lat":62.6,"depth":0.05},{"lat":62.6,"depth":0.13},{"lat":62.6,"depth":0.21},{"lat":62.6,"depth":0.29},{"lat":62.6,"depth":0.37},{"lat":62.6,"depth":0.45},{"lat":62.6,"depth":0.53},{"lat":62.6,"depth":0.61},{"lat":62.6,"depth":0.69},{"lat":62.6,"depth":0.77},{"lat":62.6,"depth":0.85},{"lat":62.6,"depth":0.93},{"lat":62.6,"depth":1.01},{"lat":62.6,"depth":1.09},
{"lat":62.9,"depth":0.03},{"lat":62.9,"depth":0.11},{"lat":62.9,"depth":0.19},{"lat":62.9,"depth":0.27},{"lat":62.9,"depth":0.35},{"lat":62.9,"depth":0.43},{"lat":62.9,"depth":0.51},{"lat":62.9,"depth":0.59},{"lat":62.9,"depth":0.67},{"lat":62.9,"depth":0.75},{"lat":62.9,"depth":0.83},{"lat":62.9,"depth":0.91},{"lat":62.9,"depth":0.99},{"lat":62.9,"depth":1.07},{"lat":62.9,"depth":1.15},
{"lat":63.2,"depth":0.03},{"lat":63.2,"depth":0.1},{"lat":63.2,"depth":0.18},{"lat":63.2,"depth":0.26},{"lat":63.2,"depth":0.34},{"lat":63.2,"depth":0.42},{"lat":63.2,"depth":0.5},{"lat":63.2,"depth":0.58},{"lat":63.2,"depth":0.66},{"lat":63.2,"depth":0.74},{"lat":63.2,"depth":0.82},{"lat":63.2,"depth":0.9},{"lat":63.2,"depth":0.98},{"lat":63.2,"depth":1.06},{"lat":63.2,"depth":1.14},{"lat":63.2,"depth":1.22},
{"lat":63.5,"depth":0.04},{"lat":63.5,"depth":0.12},{"lat":63.5,"depth":0.2},{"lat":63.5,"depth":0.28},{"lat":63.5,"depth":0.36},{"lat":63.5,"depth":0.44},{"lat":63.5,"depth":0.52},{"lat":63.5,"depth":0.6},{"lat":63.5,"depth":0.68},{"lat":63.5,"depth":0.76},{"lat":63.5,"depth":0.84},{"lat":63.5,"depth":0.92},{"lat":63.5,"depth":1},{"lat":63.5,"depth":1.08},{"lat":63.5,"depth":1.16},{"lat":63.5,"depth":1.24},
{"lat":63.8,"depth":0.03},{"lat":63.8,"depth":0.11},{"lat":63.8,"depth":0.19},{"lat":63.8,"depth":0.27},{"lat":63.8,"depth":0.35},{"lat":63.8,"depth":0.43},{"lat":63.8,"depth":0.51},{"lat":63.8,"depth":0.59},{"lat":63.8,"depth":0.67},{"lat":63.8,"depth":0.75},{"lat":63.8,"depth":0.83},{"lat":63.8,"depth":0.91},{"lat":63.8,"depth":0.99},
{"lat":64.1,"depth":0.04},{"lat":64.1,"depth":0.12},{"lat":64.1,"depth":0.2},{"lat":64.1,"depth":0.28},{"lat":64.1,"depth":0.36},{"lat":64.1,"depth":0.44},{"lat":64.1,"depth":0.52},{"lat":64.1,"depth":0.6},{"lat":64.1,"depth":0.68},{"lat":64.1,"depth":0.76},{"lat":64.1,"depth":0.84},
{"lat":64.4,"depth":0.03},{"lat":64.4,"depth":0.11},{"lat":64.4,"depth":0.19},{"lat":64.4,"depth":0.27},{"lat":64.4,"depth":0.35},{"lat":64.4,"depth":0.43},{"lat":64.4,"depth":0.51},{"lat":64.4,"depth":0.59},{"lat":64.4,"depth":0.67},
{"lat":64.7,"depth":0.04},{"lat":64.7,"depth":0.12},{"lat":64.7,"depth":0.2},{"lat":64.7,"depth":0.28},{"lat":64.7,"depth":0.36},{"lat":64.7,"depth":0.44},{"lat":64.7,"depth":0.52},{"lat":64.7,"depth":0.6},
{"lat":65,"depth":0.07},{"lat":65,"depth":0.17},{"lat":65,"depth":0.27},{"lat":65,"depth":0.37},{"lat":65,"depth":0.47},{"lat":65,"depth":0.57},
{"lat":65.4,"depth":0.1},{"lat":65.4,"depth":0.2},{"lat":65.4,"depth":0.3},{"lat":65.4,"depth":0.4},{"lat":65.4,"depth":0.5},
{"lat":65.8,"depth":0.12},{"lat":65.8,"depth":0.22},{"lat":65.8,"depth":0.32},
{"lat":66.2,"depth":0.13},{"lat":66.2,"depth":0.23},
{"lat":62.75,"depth":0.57},{"lat":62.75,"depth":0.73},{"lat":62.75,"depth":0.89},{"lat":62.75,"depth":1.05},{"lat":63.05,"depth":0.38},{"lat":63.05,"depth":0.54},{"lat":63.05,"depth":0.7},{"lat":63.05,"depth":0.86},{"lat":63.05,"depth":1.02},{"lat":63.05,"depth":1.18},{"lat":63.35,"depth":0.3},{"lat":63.35,"depth":0.46},{"lat":63.35,"depth":0.62},{"lat":63.35,"depth":0.78},{"lat":63.35,"depth":0.94},{"lat":63.35,"depth":1.1},{"lat":63.65,"depth":0.16},{"lat":63.65,"depth":0.32},{"lat":63.65,"depth":0.48},{"lat":63.65,"depth":0.64},{"lat":63.65,"depth":0.8},{"lat":63.65,"depth":0.96},{"lat":63.95,"depth":0.08},{"lat":63.95,"depth":0.24},{"lat":63.95,"depth":0.4},{"lat":63.95,"depth":0.56},{"lat":63.95,"depth":0.72},{"lat":64.25,"depth":0.08},{"lat":64.25,"depth":0.24},{"lat":64.25,"depth":0.4},{"lat":64.25,"depth":0.56},{"lat":64.55,"depth":0.08},{"lat":64.55,"depth":0.24},{"lat":64.55,"depth":0.4}],
"bar":[{"chl":0,"chl2":0.05},{"chl":0.04,"chl2":0.09},{"chl":0.08,"chl2":0.13},{"chl":0.12,"chl2":0.17},{"chl":0.16,"chl2":0.21},{"chl":0.2,"chl2":0.25},{"chl":0.24,"chl2":0.29},{"chl":0.28,"chl2":0.33},{"chl":0.32,"chl2":0.37},{"chl":0.36,"chl2":0.41},{"chl":0.4,"chl2":0.45},{"chl":0.44,"chl2":0.49},{"chl":0.48,"chl2":0.53},{"chl":0.52,"chl2":0.57},{"chl":0.56,"chl2":0.61},{"chl":0.6,"chl2":0.65},{"chl":0.64,"chl2":0.69},{"chl":0.68,"chl2":0.73},{"chl":0.72,"chl2":0.77},{"chl":0.76,"chl2":0.81},{"chl":0.8,"chl2":0.85},{"chl":0.84,"chl2":0.89},{"chl":0.88,"chl2":0.93},{"chl":0.92,"chl2":0.97},{"chl":0.96,"chl2":1.01},{"chl":1,"chl2":1.05},{"chl":1.04,"chl2":1.09},{"chl":1.08,"chl2":1.13},{"chl":1.12,"chl2":1.17},{"chl":1.16,"chl2":1.21},{"chl":1.2,"chl2":1.25},{"chl":1.24,"chl2":1.29},{"chl":1.28,"chl2":1.33},{"chl":1.32,"chl2":1.37},{"chl":1.36,"chl2":1.41},{"chl":1.4,"chl2":1.45},{"chl":1.44,"chl2":1.49},{"chl":1.48,"chl2":1.53},{"chl":1.52,"chl2":1.57},{"chl":1.56,"chl2":1.61},{"chl":1.6,"chl2":1.65},{"chl":1.64,"chl2":1.69},{"chl":1.68,"chl2":1.73},{"chl":1.72,"chl2":1.77},{"chl":1.76,"chl2":1.81},{"chl":1.8,"chl2":1.85},{"chl":1.84,"chl2":1.89},{"chl":1.88,"chl2":1.93},{"chl":1.92,"chl2":1.97},{"chl":1.96,"chl2":2.01},{"chl":2,"chl2":2.05},{"chl":2.04,"chl2":2.09},{"chl":2.08,"chl2":2.13},{"chl":2.12,"chl2":2.17},{"chl":2.16,"chl2":2.21},{"chl":2.2,"chl2":2.25},{"chl":2.24,"chl2":2.29},{"chl":2.28,"chl2":2.33},{"chl":2.32,"chl2":2.37},{"chl":2.36,"chl2":2.41},{"chl":2.4,"chl2":2.45},{"chl":2.44,"chl2":2.49},{"chl":2.48,"chl2":2.53},{"chl":2.52,"chl2":2.57},{"chl":2.56,"chl2":2.6}]
},
"layer":[
{"encoding":{"x":{"field":"x","type":"quantitative","scale":{"domain":[0,1],"range":[27,740]},"axis":null},"y":{"field":"y","type":"quantitative","scale":{"domain":[0,1],"range":[18,564]},"axis":null}},
"layer":[
{"data":{"name":"paper"},"transform":[{"filter":"datum.part=='gray'"}],"mark":{"type":"rect","color":"#949494"},"encoding":{"x2":{"field":"x2"},"y2":{"field":"y2"}}},
{"data":{"name":"paper"},"transform":[{"filter":"datum.part=='shadow'"}],"mark":{"type":"rect","color":"#3c3c3c"},"encoding":{"x2":{"field":"x2"},"y2":{"field":"y2"}}},
{"data":{"name":"paper"},"transform":[{"filter":"datum.part=='sheet'"}],"mark":{"type":"rect","color":"#ffffff"},"encoding":{"x2":{"field":"x2"},"y2":{"field":"y2"}}},
{"data":{"name":"papertext"},"mark":{"type":"text","fontSize":21,"align":"center","baseline":"middle"},"encoding":{"text":{"field":"label"}}}
]},
{"encoding":{"x":{"field":"sal","type":"quantitative","scale":{"domain":[25,275],"range":[128.7,385]},"axis":null},"y":{"field":"depth","type":"quantitative","scale":{"domain":[0,25],"range":[81.3,262.3]},"axis":null}},
"resolve":{"axis":{"x":"independent","y":"independent"}},
"layer":[
{"data":{"name":"model"},"transform":[{"filter":"datum.panel=='a'"}],"mark":{"type":"line","interpolate":"catmull-rom","strokeWidth":4},"encoding":{"x":{"field":"sal","type":"quantitative","scale":{"domain":[25,275],"range":[128.7,385]},"axis":{"zindex":1,"orient":"bottom","offset":-301.7,"values":[50,100,150,200,250],"labels":false,"title":null}},"y":{"field":"depth","type":"quantitative","scale":{"domain":[0,25],"range":[81.3,262.3]},"axis":{"zindex":1,"orient":"left","offset":-128.7,"values":[0,5,10,15,20,25],"labelPadding":12,"title":null}},"stroke":{"field":"day","type":"ordinal","scale":{"domain":[1,2,3,4,5,6,7,8],"range":["#0a0604","#2e1c10","#5a3a25","#8a5c3c","#b07a52","#cf8f62","#e9a36f","#f5c27c"]},"legend":null},"order":{"field":"depth"}}},
{"data":{"name":"liquidus"},"transform":[{"filter":"datum.panel=='a'"}],"mark":{"type":"line","interpolate":"catmull-rom","strokeWidth":1,"opacity":0.85},"encoding":{"x":{"field":"sal","type":"quantitative","scale":{"domain":[25,275],"range":[128.7,385]},"axis":{"zindex":1,"orient":"top","offset":-81.3,"values":[50,100,150,200,250],"labels":false,"title":null}},"y":{"field":"depth","type":"quantitative","scale":{"domain":[0,25],"range":[81.3,262.3]},"axis":{"zindex":1,"orient":"right","offset":-1169,"values":[0,5,10,15,20,25],"labels":false,"title":null}},"stroke":{"field":"day","type":"ordinal","legend":null},"order":{"field":"depth"}}},
{"data":{"name":"notes"},"transform":[{"filter":"datum.panel=='a'"}],"mark":{"type":"text","fontSize":20,"align":"center","baseline":"middle"},"encoding":{"text":{"field":"label"}}}
]},
{"encoding":{"x":{"field":"sal","type":"quantitative","scale":{"domain":[25,275],"range":[411,662]},"axis":null},"y":{"field":"depth","type":"quantitative","scale":{"domain":[0,25],"range":[81.3,262.3]},"axis":null}},
"resolve":{"axis":{"x":"independent","y":"independent"}},
"layer":[
{"data":{"name":"model"},"transform":[{"filter":"datum.panel=='b'"}],"mark":{"type":"line","interpolate":"catmull-rom","strokeWidth":4},"encoding":{"x":{"field":"sal","type":"quantitative","scale":{"domain":[25,275],"range":[411,662]},"axis":{"zindex":1,"orient":"bottom","offset":-301.7,"values":[50,100,150,200,250],"labels":false,"title":null}},"y":{"field":"depth","type":"quantitative","scale":{"domain":[0,25],"range":[81.3,262.3]},"axis":{"zindex":1,"orient":"left","offset":-411,"values":[0,5,10,15,20,25],"labels":false,"title":null}},"stroke":{"field":"day","type":"ordinal","legend":null},"order":{"field":"depth"}}},
{"data":{"name":"liquidus"},"transform":[{"filter":"datum.panel=='b'"}],"mark":{"type":"line","interpolate":"catmull-rom","strokeWidth":1,"opacity":0.85},"encoding":{"x":{"field":"sal","type":"quantitative","scale":{"domain":[25,275],"range":[411,662]},"axis":{"zindex":1,"orient":"top","offset":-81.3,"values":[50,100,150,200,250],"labels":false,"title":null}},"y":{"field":"depth","type":"quantitative","scale":{"domain":[0,25],"range":[81.3,262.3]},"axis":{"zindex":1,"orient":"right","offset":-892,"values":[0,5,10,15,20,25],"labels":false,"title":null}},"stroke":{"field":"day","type":"ordinal","legend":null},"order":{"field":"depth"}}},
{"data":{"name":"notes"},"transform":[{"filter":"datum.panel=='b'"}],"mark":{"type":"text","fontSize":20,"align":"center","baseline":"middle"},"encoding":{"text":{"field":"label"}}},
{"data":{"name":"arrows"},"transform":[{"filter":"datum.panel=='b'"}],"mark":{"type":"line","stroke":"#333","strokeWidth":1.1},"encoding":{}},
{"data":{"values":[{"sal":186.7,"depth":4.28}]},"mark":{"type":"point","shape":"M0,-1L0.6,1L0,0.5L-0.6,1Z","filled":true,"opacity":1,"size":170,"angle":322,"color":"#111"}}
]},
{"encoding":{"x":{"field":"sal","type":"quantitative","scale":{"domain":[25,275],"range":[127.7,386]},"axis":null},"y":{"field":"depth","type":"quantitative","scale":{"domain":[0,25],"range":[308.7,482.3]},"axis":null}},
"resolve":{"axis":{"x":"independent","y":"independent"}},
"layer":[
{"data":{"name":"model"},"transform":[{"filter":"datum.panel=='c'"}],"mark":{"type":"line","interpolate":"catmull-rom","strokeWidth":4},"encoding":{"x":{"field":"sal","type":"quantitative","scale":{"domain":[25,275],"range":[127.7,386]},"axis":{"zindex":1,"orient":"bottom","offset":-81.7,"values":[50,100,150,200,250],"labelPadding":12,"title":null}},"y":{"field":"depth","type":"quantitative","scale":{"domain":[0,25],"range":[308.7,482.3]},"axis":{"zindex":1,"orient":"left","offset":-127.7,"values":[0,5,10,15,20,25],"labelPadding":12,"title":null}},"stroke":{"field":"day","type":"ordinal","legend":null},"order":{"field":"depth"}}},
{"data":{"name":"liquidus"},"transform":[{"filter":"datum.panel=='c'"}],"mark":{"type":"line","interpolate":"catmull-rom","strokeWidth":1,"opacity":0.85},"encoding":{"x":{"field":"sal","type":"quantitative","scale":{"domain":[25,275],"range":[127.7,386]},"axis":{"zindex":1,"orient":"top","offset":-308.7,"values":[50,100,150,200,250],"labels":false,"title":null}},"y":{"field":"depth","type":"quantitative","scale":{"domain":[0,25],"range":[308.7,482.3]},"axis":{"zindex":1,"orient":"right","offset":-1168,"values":[0,5,10,15,20,25],"labels":false,"title":null}},"stroke":{"field":"day","type":"ordinal","legend":null},"order":{"field":"depth"}}},
{"data":{"name":"notes"},"transform":[{"filter":"datum.panel=='c'"}],"mark":{"type":"text","fontSize":20,"align":"center","baseline":"middle"},"encoding":{"text":{"field":"label"}}},
{"data":{"values":[{"sal":151.6,"sal2":265.4,"depth":2.5,"depth2":12.9}]},"mark":{"type":"rect","fill":"#ffffff","stroke":"#555","strokeWidth":1.2},"encoding":{"x2":{"field":"sal2"},"y2":{"field":"depth2"}}},
{"data":{"name":"legendnotes"},"mark":{"type":"text","fontSize":13,"align":"center","baseline":"middle"},"encoding":{"text":{"field":"label"}}},
{"data":{"values":[{"sal":182.5,"depth":4.65}]},"layer":[
{"mark":{"type":"point","shape":"M-1,0A1,0.45,0,1,1,1,0A1,0.45,0,1,1,-1,0Z","filled":true,"opacity":1,"size":2400,"color":"#0a0604"}},
{"mark":{"type":"point","shape":"M-1,0A1,0.45,0,1,1,1,0A1,0.45,0,1,1,-1,0Z","filled":true,"opacity":1,"size":1500,"color":"#6b4426"}},
{"mark":{"type":"point","shape":"M-1,0A1,0.45,0,1,1,1,0A1,0.45,0,1,1,-1,0Z","filled":true,"opacity":1,"size":900,"color":"#b97f52"}},
{"mark":{"type":"point","shape":"M-1,0A1,0.45,0,1,1,1,0A1,0.45,0,1,1,-1,0Z","filled":true,"opacity":1,"size":400,"color":"#f0d0a0"}},
{"mark":{"type":"point","shape":"M-1,0A1,0.45,0,1,1,1,0A1,0.45,0,1,1,-1,0Z","filled":true,"opacity":1,"size":180,"color":"#f5c27c"}}
]},
{"data":{"values":[{"sal":182.5,"depth":9.55}]},"layer":[
{"mark":{"type":"point","shape":"M-1,0A1,0.4,0,1,1,1,0A1,0.4,0,1,1,-1,0Z","filled":false,"opacity":1,"strokeWidth":1.2,"size":2116,"color":"#555"}},
{"mark":{"type":"point","shape":"M-1,0A1,0.4,0,1,1,1,0A1,0.4,0,1,1,-1,0Z","filled":false,"opacity":1,"strokeWidth":1.2,"size":1000,"color":"#b58a66"}},
{"mark":{"type":"point","shape":"M-1,0A1,0.4,0,1,1,1,0A1,0.4,0,1,1,-1,0Z","filled":false,"opacity":1,"strokeWidth":1.2,"size":300,"color":"#f0c48a"}}
]}
]},
{"encoding":{"x":{"field":"sal","type":"quantitative","scale":{"domain":[25,275],"range":[413.7,661.7]},"axis":null},"y":{"field":"depth","type":"quantitative","scale":{"domain":[0,25],"range":[308.7,482.3]},"axis":null}},
"resolve":{"axis":{"x":"independent","y":"independent"}},
"layer":[
{"data":{"name":"model"},"transform":[{"filter":"datum.panel=='d'"}],"mark":{"type":"line","interpolate":"catmull-rom","strokeWidth":4},"encoding":{"x":{"field":"sal","type":"quantitative","scale":{"domain":[25,275],"range":[413.7,661.7]},"axis":{"zindex":1,"orient":"bottom","offset":-81.7,"values":[50,100,150,200,250],"labelPadding":12,"title":null}},"y":{"field":"depth","type":"quantitative","scale":{"domain":[0,25],"range":[308.7,482.3]},"axis":{"zindex":1,"orient":"left","offset":-413.7,"values":[0,5,10,15,20,25],"labels":false,"title":null}},"stroke":{"field":"day","type":"ordinal","legend":null},"order":{"field":"depth"}}},
{"data":{"name":"liquidus"},"transform":[{"filter":"datum.panel=='d'"}],"mark":{"type":"line","interpolate":"catmull-rom","strokeWidth":1,"opacity":0.85},"encoding":{"x":{"field":"sal","type":"quantitative","scale":{"domain":[25,275],"range":[413.7,661.7]},"axis":{"zindex":1,"orient":"top","offset":-308.7,"values":[50,100,150,200,250],"labels":false,"title":null}},"y":{"field":"depth","type":"quantitative","scale":{"domain":[0,25],"range":[308.7,482.3]},"axis":{"zindex":1,"orient":"right","offset":-892.3,"values":[0,5,10,15,20,25],"labels":false,"title":null}},"stroke":{"field":"day","type":"ordinal","legend":null},"order":{"field":"depth"}}},
{"data":{"name":"notes"},"transform":[{"filter":"datum.panel=='d'"}],"mark":{"type":"text","fontSize":20,"align":"center","baseline":"middle"},"encoding":{"text":{"field":"label"}}},
{"data":{"name":"arrows"},"transform":[{"filter":"datum.panel=='d'"}],"mark":{"type":"line","stroke":"#333","strokeWidth":1.1},"encoding":{}},
{"data":{"values":[{"sal":177,"depth":7.1}]},"mark":{"type":"point","shape":"M0,-1L0.6,1L0,0.5L-0.6,1Z","filled":true,"opacity":1,"size":170,"angle":235,"color":"#111"}}
]},
{"resolve":{"axis":{"x":"independent","y":"independent"}},
"encoding":{"x":{"field":"lat","type":"quantitative","scale":{"domain":[59,83.22],"range":[832.7,1464.7]},"axis":null},"y":{"field":"depth","type":"quantitative","scale":{"domain":[-0.346,4.025],"range":[29,475.3]},"axis":null}},
"layer":[
{"data":{"name":"heat"},"mark":{"type":"area","interpolate":"monotone"},"encoding":{"x":{"field":"lat","type":"quantitative","scale":{"domain":[59,83.22],"range":[832.7,1464.7]},"axis":{"zindex":1,"orient":"bottom","offset":-88.7,"values":[60,65,70,75,80],"tickSize":-3,"labelFont":"Liberation Sans","labelFontSize":17,"labelColor":"#444","labelPadding":10,"domainColor":"#333","tickColor":"#333","title":"Latitude (ᵒN)","titleFont":"Liberation Sans","titleFontWeight":"bold","titleFontSize":24,"titleColor":"#000","titlePadding":12}},"y":{"field":"top","type":"quantitative","scale":{"domain":[-0.346,4.025],"range":[29,475.3]},"axis":{"zindex":1,"orient":"left","offset":-832.7,"values":[0,0.5,1,1.5,2,2.5,3,3.5,4],"format":"~g","tickSize":-3,"labelFont":"Liberation Sans","labelFontSize":17,"labelColor":"#444","labelPadding":10,"domainColor":"#333","tickColor":"#333","title":"Depth (m)","titleFont":"Liberation Sans","titleFontWeight":"bold","titleFontSize":22,"titleColor":"#000","titlePadding":20}},"y2":{"field":"bot"},"fill":{"field":"chl","type":"quantitative","scale":{"domain":[0,0.325,0.975,1.625,2.275,2.6],"range":["#00007f","#0000ff","#00ffff","#ffff00","#ff0000","#7f0000"]},"legend":null},"detail":{"field":"band"}}},
{"data":{"name":"dots"},"mark":{"type":"point","filled":true,"size":4,"opacity":1,"color":"#111"},"encoding":{}},
{"data":{"name":"contour"},"mark":{"type":"line","interpolate":"monotone","color":"#000","strokeWidth":3.5},"encoding":{}},
{"data":{"name":"arc"},"mark":{"type":"line","interpolate":"catmull-rom","color":"#2f62b4","strokeWidth":2.6},"encoding":{"order":{"field":"lat"}}},
{"data":{"values":[{}]},"mark":{"type":"rule","color":"#000","strokeWidth":2},"encoding":{"x":{"datum":59,"type":"quantitative","scale":{"domain":[59,83.22],"range":[832.7,1464.7]},"axis":{"zindex":1,"orient":"top","offset":-29,"values":[60,65,70,75,80],"labels":false,"tickSize":-3,"domainColor":"#333","tickColor":"#333","title":null}},"x2":{"datum":83.22},"y":{"datum":0,"type":"quantitative","scale":{"domain":[-0.346,4.025],"range":[29,475.3]},"axis":{"zindex":1,"orient":"right","offset":-89.3,"values":[0,0.5,1,1.5,2,2.5,3,3.5,4],"labels":false,"tickSize":-3,"domainColor":"#333","tickColor":"#333","title":null}}}}
]},
{"resolve":{"axis":{"y":"independent"}},
"layer":[
{"data":{"name":"bar"},"mark":{"type":"rect"},"encoding":{"x":{"datum":0,"type":"quantitative","scale":{"domain":[0,1],"range":[1490,1523.3]},"axis":null},"x2":{"datum":1},"y":{"field":"chl","type":"quantitative","scale":{"domain":[0,2.6],"range":[477.3,26]},"axis":{"zindex":1,"orient":"right","offset":-30.7,"values":[0.5,1,1.5,2,2.5],"format":"~g","labelFont":"Liberation Sans","labelFontSize":19,"labelColor":"#444","labelPadding":8,"tickColor":"#333","domainColor":"#333","tickSize":-4,"title":null}},"y2":{"field":"chl2"},"fill":{"field":"chl","type":"quantitative","legend":null}}},
{"data":{"values":[{}]},"mark":{"type":"rect","fill":null,"stroke":"#333","strokeWidth":1},"encoding":{"x":{"datum":0,"type":"quantitative","scale":{"domain":[0,1],"range":[1490,1523.3]},"axis":null},"x2":{"datum":1},"y":{"datum":0,"type":"quantitative","scale":{"domain":[0,2.6],"range":[477.3,26]},"axis":{"zindex":1,"orient":"left","offset":-1490,"values":[0.5,1,1.5,2,2.5],"labels":false,"tickColor":"#333","domainOpacity":0,"tickSize":-4,"title":null}},"y2":{"datum":2.6}}},
{"data":{"values":[{}]},"mark":{"type":"text","text":"( mg/m³)","font":"Liberation Sans","fontSize":22,"color":"#444","align":"left","baseline":"middle"},"encoding":{"x":{"datum":-0.3,"type":"quantitative","scale":{"domain":[0,1],"range":[1490,1523.3]},"axis":null},"y":{"datum":-0.148,"type":"quantitative","scale":{"domain":[0,2.6],"range":[477.3,26]},"axis":null}}}
]}
],
"resolve":{"scale":{"x":"independent","y":"independent"},"axis":{"x":"independent","y":"independent"}}
}
